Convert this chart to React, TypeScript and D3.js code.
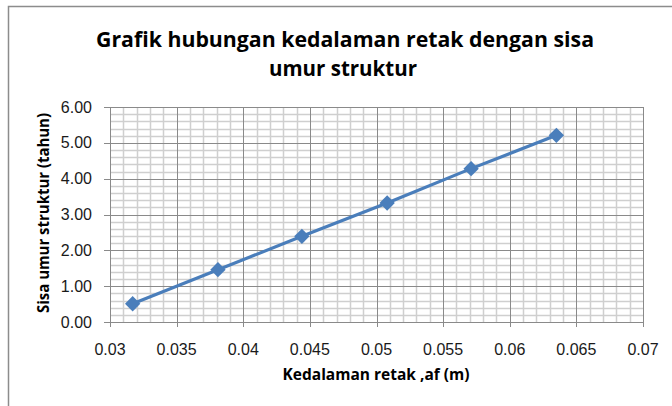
import React, { useEffect, useRef } from 'react';
import * as d3 from 'd3';

// data
const depthM = [0.0317, 0.0381, 0.0444, 0.0508, 0.0571, 0.0635];
const lifeYears = [0.51, 1.46, 2.39, 3.32, 4.28, 5.21];
const xTicks = [0.03, 0.035, 0.04, 0.045, 0.05, 0.055, 0.06, 0.065, 0.07];
const yTicks = [0, 1, 2, 3, 4, 5, 6];
const titleLines = ['Grafik  hubungan kedalaman retak dengan sisa', 'umur struktur'];
const xTitle = 'Kedalaman retak ,af (m)';
const yTitle = 'Sisa umur struktur (tahun)';

const W = 672;
const H = 406;
const FONT = '"Liberation Sans", Arial, sans-serif';
const TFONT = '"Open Sans", "Noto Sans", sans-serif';

const App = () => {
  const svgRef = useRef<SVGSVGElement | null>(null);

  useEffect(() => {
    const svg = d3.select(svgRef.current);
    svg.selectAll('*').remove();

    const left = 110, right = 643, top = 107, bottom = 322;
    const x = d3.scaleLinear().domain([0.03, 0.07]).range([left, right]);
    const y = d3.scaleLinear().domain([0, 6]).range([bottom, top]);

    svg.append('rect').attr('width', W).attr('height', H).attr('fill', '#fff');

    // chart frame (runs off the right/bottom edge)
    svg.append('rect')
      .attr('x', 8.5).attr('y', 6.5)
      .attr('width', 700).attr('height', 440)
      .attr('fill', 'none').attr('stroke', '#8c8c8c').attr('stroke-width', 1.5);

    // minor grid
    const g = svg.append('g');
    const xMinor = d3.range(0, 41).map(i => 0.03 + i * 0.001).filter((_, i) => i % 5 !== 0);
    const yMinor = d3.range(0, 31).map(i => i * 0.2).filter((_, i) => i % 5 !== 0);
    g.selectAll('line.xm').data(xMinor).join('line')
      .attr('x1', d => Math.round(x(d)) + 0.5).attr('x2', d => Math.round(x(d)) + 0.5)
      .attr('y1', top).attr('y2', bottom)
      .attr('stroke', '#cfcfcf').attr('stroke-width', 1.5);
    g.selectAll('line.ym').data(yMinor).join('line')
      .attr('y1', d => Math.round(y(d)) + 0.5).attr('y2', d => Math.round(y(d)) + 0.5)
      .attr('x1', left).attr('x2', right)
      .attr('stroke', '#cfcfcf').attr('stroke-width', 1.5);

    // major grid
    g.selectAll('line.xM').data(xTicks).join('line')
      .attr('x1', d => Math.round(x(d)) + 0.5).attr('x2', d => Math.round(x(d)) + 0.5)
      .attr('y1', top).attr('y2', bottom + 5)
      .attr('stroke', '#8a8a8a').attr('stroke-width', 1);
    g.selectAll('line.yM').data(yTicks).join('line')
      .attr('y1', d => Math.round(y(d)) + 0.5).attr('y2', d => Math.round(y(d)) + 0.5)
      .attr('x1', left - 6).attr('x2', right)
      .attr('stroke', '#8a8a8a').attr('stroke-width', 1);

    // tick labels
    svg.append('g').selectAll('text').data(xTicks).join('text')
      .attr('x', d => x(d)).attr('y', bottom + 33)
      .attr('text-anchor', 'middle')
      .style('font-family', FONT).style('font-size', '16px').attr('fill', '#1a1a1a')
      .text(d => String(d));
    svg.append('g').selectAll('text').data(yTicks).join('text')
      .attr('x', left - 18).attr('y', d => y(d) + 5.5)
      .attr('text-anchor', 'end')
      .style('font-family', FONT).style('font-size', '16px').attr('fill', '#1a1a1a')
      .text(d => d3.format('.2f')(d));

    // series
    const pts = depthM.map((d, i) => [x(d), y(lifeYears[i])] as [number, number]);
    svg.append('path')
      .attr('d', d3.line()(pts))
      .attr('fill', 'none').attr('stroke', '#4a7ebb').attr('stroke-width', 3.2);
    svg.append('g').selectAll('path').data(pts).join('path')
      .attr('d', d3.symbol(d3.symbolDiamond2, 150)())
      .attr('transform', d => `translate(${d[0]},${d[1]})`)
      .attr('fill', '#4a7ebb');

    // titles
    titleLines.forEach((t, i) => {
      svg.append('text')
        .attr('x', i === 0 ? 345 : 343).attr('y', 47 + i * 28.5)
        .attr('text-anchor', 'middle')
        .style('font-family', TFONT).style('font-size', '20.5px').style('font-weight', 'bold')
        .attr('fill', '#000')
        .attr('textLength', i === 0 ? 498 : 148).attr('lengthAdjust', 'spacingAndGlyphs')
        .text(t);
    });
    svg.append('text')
      .attr('x', 376).attr('y', 380)
      .attr('text-anchor', 'middle')
      .style('font-family', TFONT).style('font-size', '15.5px').style('font-weight', 'bold')
      .attr('textLength', 187).attr('lengthAdjust', 'spacingAndGlyphs')
      .text(xTitle);
    svg.append('text')
      .attr('transform', `translate(49,213) rotate(-90)`)
      .attr('text-anchor', 'middle')
      .style('font-family', TFONT).style('font-size', '15.5px').style('font-weight', 'bold')
      .attr('textLength', 200).attr('lengthAdjust', 'spacingAndGlyphs')
      .text(yTitle);
  }, []);

  return (
    <svg ref={svgRef} width={W} height={H}
      style={{ position: 'absolute', left: 0, top: 0, display: 'block' }} />
  );
};

export default App;
